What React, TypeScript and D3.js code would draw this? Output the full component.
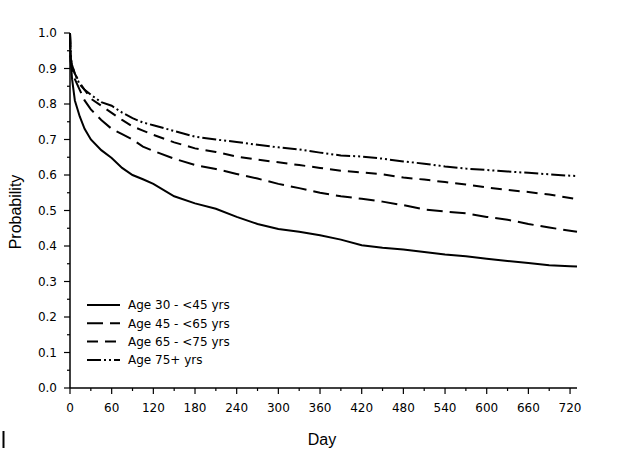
import { useEffect, useRef } from 'react'
import * as d3 from 'd3'

const days = [0, 1, 3, 7, 14, 21, 30, 45, 60, 75, 90, 105, 120, 150, 180, 210, 240, 270, 300, 330, 360, 390, 420, 450, 480, 510, 540, 570, 600, 630, 660, 690, 720, 730]

const age30to45 = [1.0, 0.92, 0.87, 0.81, 0.765, 0.73, 0.70, 0.67, 0.648, 0.62, 0.60, 0.588, 0.575, 0.54, 0.52, 0.505, 0.482, 0.462, 0.448, 0.44, 0.43, 0.418, 0.402, 0.395, 0.39, 0.383, 0.376, 0.371, 0.364, 0.358, 0.352, 0.346, 0.343, 0.342]
const age45to65 = [1.0, 0.92, 0.90, 0.87, 0.84, 0.81, 0.785, 0.755, 0.73, 0.715, 0.70, 0.68, 0.668, 0.646, 0.628, 0.617, 0.603, 0.59, 0.575, 0.563, 0.55, 0.54, 0.533, 0.525, 0.515, 0.503, 0.497, 0.492, 0.482, 0.474, 0.462, 0.452, 0.443, 0.44]
const age65to75 = [1.0, 0.93, 0.91, 0.885, 0.86, 0.84, 0.815, 0.795, 0.775, 0.755, 0.737, 0.725, 0.713, 0.692, 0.675, 0.665, 0.652, 0.643, 0.636, 0.628, 0.62, 0.612, 0.607, 0.602, 0.593, 0.587, 0.58, 0.573, 0.565, 0.558, 0.552, 0.545, 0.535, 0.532]
const age75plus = [1.0, 0.93, 0.91, 0.885, 0.855, 0.84, 0.826, 0.805, 0.795, 0.776, 0.76, 0.748, 0.74, 0.724, 0.708, 0.70, 0.693, 0.685, 0.678, 0.672, 0.663, 0.655, 0.652, 0.646, 0.638, 0.632, 0.624, 0.618, 0.614, 0.61, 0.606, 0.602, 0.598, 0.597]

const seriesLabels = ['Age 30 - <45 yrs', 'Age 45 - <65 yrs', 'Age 65 - <75 yrs', 'Age 75+ yrs']
const seriesValues = [age30to45, age45to65, age65to75, age75plus]
const dashes = ['none', '16,7', '11,7', '14,3,2,3,2,3']

const xTicks = d3.range(0, 721, 60)
const xMinor = d3.range(30, 721, 60)
const yTicks = d3.range(0, 11).map(i => i / 10)
const yMinor = d3.range(0, 10).map(i => i / 10 + 0.05)

const smallFont = 'DejaVu Sans, sans-serif'
const titleFont = 'Liberation Sans, Arial, sans-serif'

export default function App() {
  const svgRef = useRef<SVGSVGElement>(null)

  useEffect(() => {
    if (!svgRef.current) return
    const svg = d3.select(svgRef.current)
    svg.selectAll('*').remove()

    const x = d3.scaleLinear().domain([0, 730]).range([70, 577])
    const y = d3.scaleLinear().domain([0, 1]).range([388, 33])

    // axes lines
    svg.append('line')
      .attr('x1', x(0)).attr('x2', x(730))
      .attr('y1', y(0)).attr('y2', y(0))
      .attr('stroke', '#000').attr('stroke-width', 1.5)
    svg.append('line')
      .attr('x1', x(0)).attr('x2', x(0))
      .attr('y1', y(0)).attr('y2', y(1))
      .attr('stroke', '#000').attr('stroke-width', 1.5)

    // x ticks
    xTicks.forEach(t => {
      svg.append('line')
        .attr('x1', x(t)).attr('x2', x(t))
        .attr('y1', y(0)).attr('y2', y(0) + 6)
        .attr('stroke', '#000').attr('stroke-width', 1.2)
      svg.append('text')
        .attr('x', x(t)).attr('y', 412)
        .attr('text-anchor', 'middle')
        .style('font-family', smallFont).style('font-size', '12px')
        .text(t)
    })
    xMinor.forEach(t => {
      svg.append('line')
        .attr('x1', x(t)).attr('x2', x(t))
        .attr('y1', y(0)).attr('y2', y(0) + 3)
        .attr('stroke', '#000').attr('stroke-width', 1.2)
    })

    // y ticks
    yTicks.forEach(t => {
      svg.append('line')
        .attr('x1', x(0) - 6).attr('x2', x(0))
        .attr('y1', y(t)).attr('y2', y(t))
        .attr('stroke', '#000').attr('stroke-width', 1.2)
      svg.append('text')
        .attr('x', 57).attr('y', y(t) + 4.4)
        .attr('text-anchor', 'end')
        .style('font-family', smallFont).style('font-size', '12px')
        .text(t.toFixed(1))
    })
    yMinor.forEach(t => {
      svg.append('line')
        .attr('x1', x(0) - 3).attr('x2', x(0))
        .attr('y1', y(t)).attr('y2', y(t))
        .attr('stroke', '#000').attr('stroke-width', 1.2)
    })

    // axis titles
    svg.append('text')
      .attr('x', 322).attr('y', 445)
      .attr('text-anchor', 'middle')
      .style('font-family', titleFont).style('font-size', '16px')
      .text('Day')
    svg.append('text')
      .attr('transform', 'translate(21,212) rotate(-90)')
      .attr('text-anchor', 'middle')
      .style('font-family', titleFont).style('font-size', '16px')
      .text('Probability')

    // curves
    const line = d3.line<number>()
      .x((_, i) => x(days[i]))
      .y(d => y(d))

    seriesValues.forEach((vals, i) => {
      svg.append('path')
        .attr('d', line(vals))
        .attr('fill', 'none')
        .attr('stroke', '#000')
        .attr('stroke-width', 2)
        .attr('stroke-dasharray', dashes[i])
    })

    // legend
    seriesLabels.forEach((lab, i) => {
      const ly = 305 + i * 18.3
      svg.append('line')
        .attr('x1', 87).attr('x2', 120)
        .attr('y1', ly).attr('y2', ly)
        .attr('stroke', '#000').attr('stroke-width', 2)
        .attr('stroke-dasharray', dashes[i])
      svg.append('text')
        .attr('x', 128).attr('y', ly + 4.4)
        .style('font-family', smallFont).style('font-size', '12px')
        .text(lab)
    })

    // stray mark bottom-left
    svg.append('line')
      .attr('x1', 3.5).attr('x2', 3.5)
      .attr('y1', 431).attr('y2', 448)
      .attr('stroke', '#000').attr('stroke-width', 2)
  }, [])

  return (
    <svg
      ref={svgRef}
      width={627}
      height={460}
      style={{ position: 'absolute', left: 0, top: 0, background: '#fff' }}
    />
  )
}
